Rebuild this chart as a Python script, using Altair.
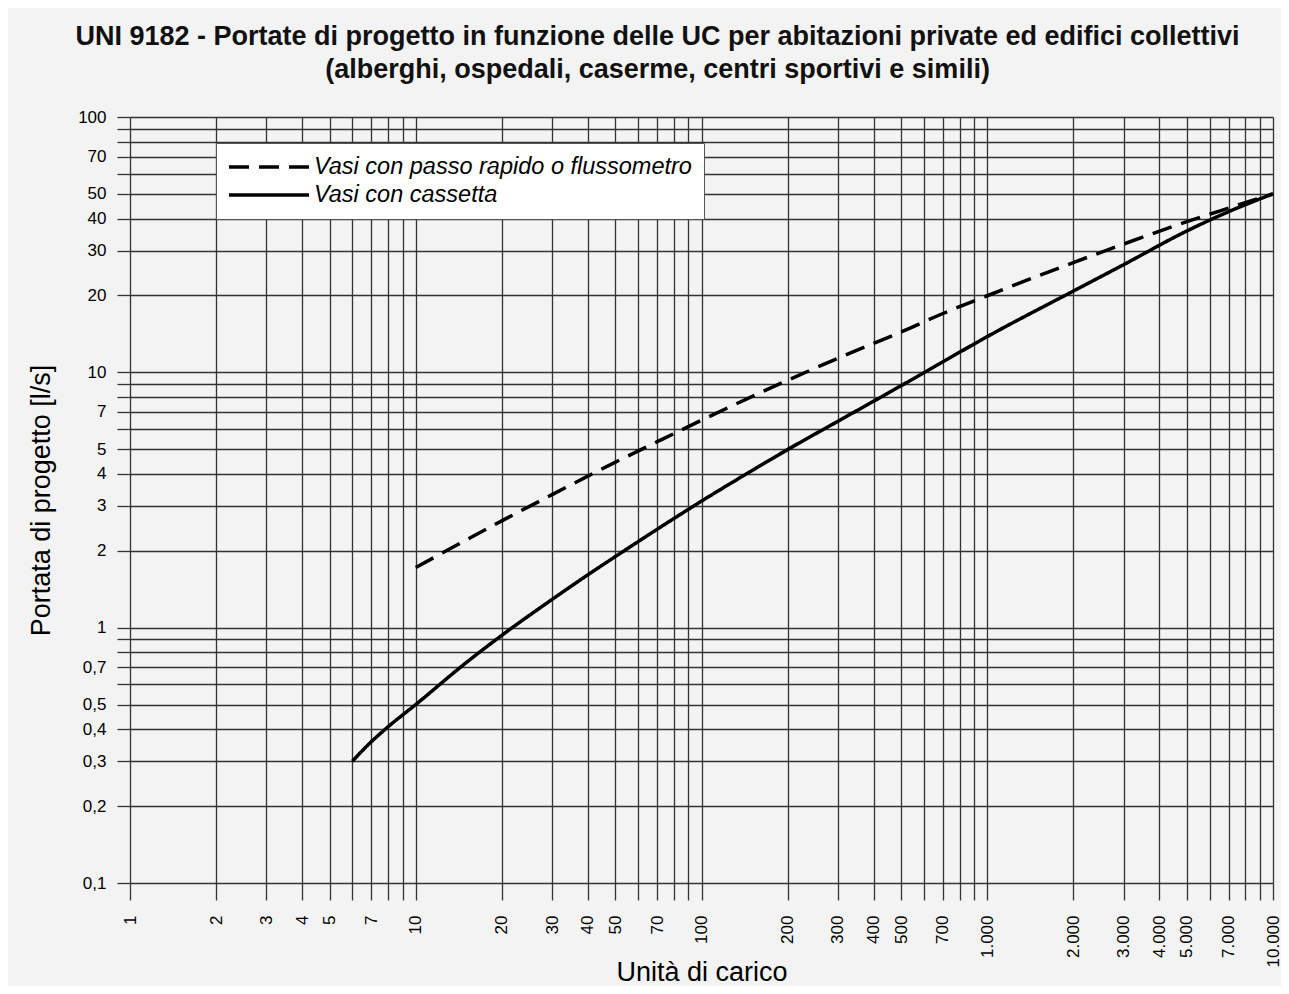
import json
import altair as alt
import pandas as pd

# ---- data ----
dashed_name = "Vasi con passo rapido o flussometro"
solid_name = "Vasi con cassetta"

dashed_x = [10, 20, 30, 40, 50, 70, 100, 200, 300, 500, 700, 1000, 2000, 3000, 5000, 7000, 10000]
dashed_y = [1.72, 2.62, 3.32, 3.92, 4.45, 5.35, 6.49, 9.3, 11.35, 14.4, 17.0, 19.95, 26.9, 31.8, 38.9, 44.0, 50]

solid_x = [6, 7, 8, 10, 15, 20, 30, 40, 50, 70, 100, 150, 200, 300, 500, 700, 1000, 2000, 3000, 5000, 7000, 10000]
solid_y = [0.3, 0.358, 0.409, 0.5, 0.729, 0.933, 1.29, 1.61, 1.9, 2.43, 3.13, 4.12, 4.98, 6.43, 8.87, 11.0, 13.8, 20.8, 26.4, 35.8, 42.6, 50]

x_ticks = [1, 2, 3, 4, 5, 6, 7, 8, 9,
           10, 20, 30, 40, 50, 60, 70, 80, 90,
           100, 200, 300, 400, 500, 600, 700, 800, 900,
           1000, 2000, 3000, 4000, 5000, 6000, 7000, 8000, 9000,
           10000]
x_label_values = [1, 2, 3, 4, 5, 7, 10, 20, 30, 40, 50, 70, 100, 200, 300, 400, 500, 700,
                  1000, 2000, 3000, 4000, 5000, 7000, 10000]
x_label_text = ["1", "2", "3", "4", "5", "7", "10", "20", "30", "40", "50", "70",
                "100", "200", "300", "400", "500", "700",
                "1.000", "2.000", "3.000", "4.000", "5.000", "7.000", "10.000"]

y_ticks = [0.1, 0.2, 0.3, 0.4, 0.5, 0.6, 0.7, 0.8, 0.9,
           1, 2, 3, 4, 5, 6, 7, 8, 9,
           10, 20, 30, 40, 50, 60, 70, 80, 90,
           100]
y_label_values = [0.1, 0.2, 0.3, 0.4, 0.5, 0.7, 1, 2, 3, 4, 5, 7, 10, 20, 30, 40, 50, 70, 100]
y_label_text = ["0,1", "0,2", "0,3", "0,4", "0,5", "0,7", "1", "2", "3", "4", "5", "7",
                "10", "20", "30", "40", "50", "70", "100"]

title_lines = [
    "UNI 9182 - Portate di progetto in funzione delle UC per abitazioni private ed edifici collettivi",
    "(alberghi, ospedali, caserme, centri sportivi e simili)",
]

rows = []
for xv, yv in zip(dashed_x, dashed_y):
    rows.append({"uc": xv, "q": yv, "serie": dashed_name})
for xv, yv in zip(solid_x, solid_y):
    rows.append({"uc": xv, "q": yv, "serie": solid_name})
df = pd.DataFrame(rows)


def label_expr(vals, texts):
    v = json.dumps(vals)
    t = json.dumps(texts)
    return f"indexof({v}, datum.value) >= 0 ? {t}[indexof({v}, datum.value)] : ''"


FONT = "Liberation Sans"
GRID = "#333333"

x_axis = alt.Axis(
    values=x_ticks,
    labelExpr=label_expr(x_label_values, x_label_text),
    labelAngle=270,
    labelFont=FONT,
    labelFontSize=17,
    labelColor="black",
    labelPadding=15,
    labelOverlap=False,
    labelFlush=False,
    labelBound=False,
    tickSize=17,
    tickColor=GRID,
    tickWidth=1.3,
    grid=True,
    gridColor=GRID,
    gridWidth=1.3,
    gridOpacity=1,
    domain=False,
    title="Unità di carico",
    titleFont=FONT,
    titleFontSize=27,
    titleFontWeight="normal",
    titleColor="black",
    titleX=571.5,
    titleY=103,
    titleAlign="center",
    titleBaseline="bottom",
)

y_axis = alt.Axis(
    values=y_ticks,
    labelExpr=label_expr(y_label_values, y_label_text),
    labelFont=FONT,
    labelFontSize=17,
    labelColor="black",
    labelPadding=11,
    labelOverlap=False,
    labelFlush=False,
    labelBound=False,
    tickSize=13,
    tickColor=GRID,
    tickWidth=1.3,
    grid=True,
    gridColor=GRID,
    gridWidth=1.3,
    gridOpacity=1,
    domain=False,
    title="Portata di progetto [l/s]",
    titleFont=FONT,
    titleFontSize=27,
    titleFontWeight="normal",
    titleColor="black",
    titleAngle=270,
    titleX=-89,
    titleY=383,
    titleAlign="center",
    titleBaseline="middle",
)

legend = alt.Legend(
    title=None,
    orient="none",
    legendX=86,
    legendY=26,
    fillColor="white",
    strokeColor="#555555",
    padding=12,
    cornerRadius=0,
    labelFont=FONT,
    labelFontSize=23.5,
    labelFontStyle="italic",
    labelColor="black",
    labelLimit=600,
    labelOffset=33,
    rowPadding=4,
    symbolType="M-4,0L4,0",
    symbolSize=400,
    symbolOffset=29,
    symbolStrokeWidth=3.5,
    symbolStrokeColor="black",
)

chart = (
    alt.Chart(df)
    .mark_line(strokeWidth=3.5, color="black", interpolate="monotone")
    .encode(
        x=alt.X("uc:Q", scale=alt.Scale(type="log", domain=[1, 10000], nice=False), axis=x_axis),
        y=alt.Y("q:Q", scale=alt.Scale(type="log", domain=[0.1, 100], nice=False), axis=y_axis),
        strokeDash=alt.StrokeDash(
            "serie:N",
            scale=alt.Scale(domain=[dashed_name, solid_name], range=[[20, 10], [1, 0]]),
            legend=legend,
        ),
    )
    .properties(
        width=1143,
        height=766,
        autosize=alt.AutoSizeParams(type="none"),
        padding={"left": 122, "top": 109, "right": 8, "bottom": 103},
        background="#f3f3f3",
        title=alt.TitleParams(
            text=title_lines,
            font=FONT,
            fontSize=27,
            fontWeight="bold",
            color="#111111",
            anchor="middle",
            dx=-44,
            offset=24,
            lineHeight=33,
        ),
    )
    .configure_view(stroke="transparent")
)

chart.save("out.html", embed_options={"renderer": "svg", "actions": False})
